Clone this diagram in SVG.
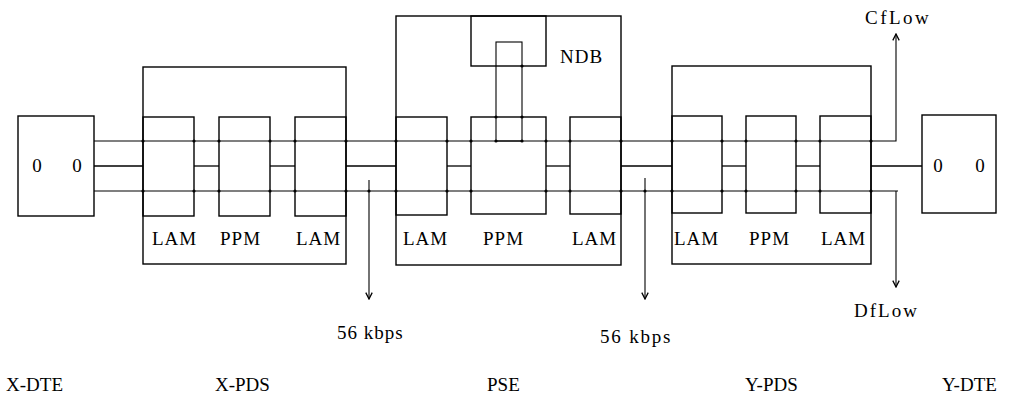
<svg xmlns="http://www.w3.org/2000/svg" width="1012" height="397" viewBox="0 0 1012 397">
<style>
.b{fill:none;stroke:#000;stroke-width:1.4}
.l{fill:none;stroke:#000;stroke-width:1.1}
.t{font-family:"Liberation Serif",serif;font-size:19px;fill:#000}
.d{fill:#000}
</style>
<defs>
<marker id="ah" viewBox="0 0 10 10" refX="9" refY="5" markerWidth="8" markerHeight="8" orient="auto" markerUnits="userSpaceOnUse">
<path d="M1,1 L9,5 L1,9" fill="none" stroke="#000" stroke-width="1.6"/>
</marker>
</defs>
<rect width="1012" height="397" fill="#fff"/>
<g id="connectors">
<polyline class="l" points="94,141 896,141 896,34" marker-end="url(#ah)"/>
<polyline class="l" points="94,191 898,191"/>
<line class="l" x1="896" y1="191" x2="896" y2="287" marker-end="url(#ah)"/>
<line class="l" x1="369" y1="180" x2="369" y2="299" marker-end="url(#ah)"/>
<line class="l" x1="645" y1="178" x2="645" y2="299" marker-end="url(#ah)"/>
<g stroke="#000" stroke-width="1.3">
<line x1="94" y1="166" x2="143" y2="166"/>
<line x1="194" y1="166" x2="219" y2="166"/>
<line x1="270" y1="166" x2="295" y2="166"/>
<line x1="346" y1="166" x2="396" y2="166"/>
<line x1="447" y1="166" x2="471" y2="166"/>
<line x1="546" y1="166" x2="570" y2="166"/>
<line x1="621" y1="166" x2="672" y2="166"/>
<line x1="722" y1="166" x2="746" y2="166"/>
<line x1="796" y1="166" x2="820" y2="166"/>
<line x1="871" y1="166" x2="922" y2="166"/>
</g>
<g class="d">
<circle cx="143" cy="141" r="1.6"/><circle cx="194" cy="141" r="1.6"/><circle cx="219" cy="141" r="1.6"/><circle cx="270" cy="141" r="1.6"/><circle cx="295" cy="141" r="1.6"/><circle cx="346" cy="141" r="1.6"/>
<circle cx="396" cy="141" r="1.6"/><circle cx="447" cy="141" r="1.6"/><circle cx="471" cy="141" r="1.6"/><circle cx="496" cy="141" r="1.6"/><circle cx="522" cy="141" r="1.6"/><circle cx="546" cy="141" r="1.6"/><circle cx="570" cy="141" r="1.6"/><circle cx="621" cy="141" r="1.6"/>
<circle cx="672" cy="141" r="1.6"/><circle cx="722" cy="141" r="1.6"/><circle cx="746" cy="141" r="1.6"/><circle cx="796" cy="141" r="1.6"/><circle cx="820" cy="141" r="1.6"/><circle cx="871" cy="141" r="1.6"/>
<circle cx="143" cy="191" r="1.6"/><circle cx="194" cy="191" r="1.6"/><circle cx="219" cy="191" r="1.6"/><circle cx="270" cy="191" r="1.6"/><circle cx="295" cy="191" r="1.6"/><circle cx="346" cy="191" r="1.6"/><circle cx="369" cy="191" r="1.6"/>
<circle cx="396" cy="191" r="1.6"/><circle cx="447" cy="191" r="1.6"/><circle cx="471" cy="191" r="1.6"/><circle cx="546" cy="191" r="1.6"/><circle cx="570" cy="191" r="1.6"/><circle cx="621" cy="191" r="1.6"/><circle cx="645" cy="191" r="1.6"/>
<circle cx="672" cy="191" r="1.6"/><circle cx="722" cy="191" r="1.6"/><circle cx="746" cy="191" r="1.6"/><circle cx="796" cy="191" r="1.6"/><circle cx="820" cy="191" r="1.6"/><circle cx="871" cy="191" r="1.6"/>
<circle cx="496" cy="117" r="1.6"/><circle cx="522" cy="117" r="1.6"/><circle cx="522" cy="66" r="1.6"/>
</g>
</g>
<g id="x-dte">
<rect class="b" x="18" y="116" width="76" height="100"/>
<text class="t" x="37" y="172" text-anchor="middle">0</text>
<text class="t" x="77" y="172" text-anchor="middle">0</text>
</g>
<g id="x-pds">
<rect class="b" x="143" y="67" width="203" height="197"/>
<rect class="b" x="143" y="117" width="51" height="99"/>
<rect class="b" x="219" y="117" width="51" height="99"/>
<rect class="b" x="295" y="117" width="51" height="99"/>
<text class="t" x="152" y="245" letter-spacing="1">LAM</text>
<text class="t" x="220" y="245" letter-spacing="1">PPM</text>
<text class="t" x="296" y="245" letter-spacing="1">LAM</text>
</g>
<g id="pse">
<rect class="b" x="396" y="16" width="225" height="249"/>
<rect class="b" x="471" y="16" width="75" height="50"/>
<rect class="l" x="496" y="42" width="26" height="99"/>
<rect class="b" x="396" y="117" width="51" height="98"/>
<rect class="b" x="471" y="117" width="75" height="97"/>
<rect class="b" x="570" y="117" width="51" height="97"/>
<text class="t" x="560" y="63" letter-spacing="1">NDB</text>
<text class="t" x="403" y="245" letter-spacing="1">LAM</text>
<text class="t" x="483" y="245" letter-spacing="1">PPM</text>
<text class="t" x="572" y="245" letter-spacing="1">LAM</text>
</g>
<g id="y-pds">
<rect class="b" x="672" y="66" width="199" height="198"/>
<rect class="b" x="672" y="116" width="50" height="97"/>
<rect class="b" x="746" y="116" width="50" height="97"/>
<rect class="b" x="820" y="116" width="51" height="97"/>
<text class="t" x="674" y="245" letter-spacing="1">LAM</text>
<text class="t" x="749" y="245" letter-spacing="1">PPM</text>
<text class="t" x="821" y="245" letter-spacing="1">LAM</text>
</g>
<g id="y-dte">
<rect class="b" x="922" y="115" width="74" height="98"/>
<text class="t" x="938" y="172" text-anchor="middle">0</text>
<text class="t" x="980" y="172" text-anchor="middle">0</text>
</g>
<g id="labels">
<text class="t" x="865" y="24" letter-spacing="2.5">CfLow</text>
<text class="t" x="854" y="317" letter-spacing="2">DfLow</text>
<text class="t" x="337" y="339" letter-spacing="1">56 kbps</text>
<text class="t" x="600" y="343" letter-spacing="1.8">56 kbps</text>
<text class="t" x="6" y="391">X-DTE</text>
<text class="t" x="215" y="391">X-PDS</text>
<text class="t" x="487" y="391">PSE</text>
<text class="t" x="745" y="391">Y-PDS</text>
<text class="t" x="942" y="391">Y-DTE</text>
</g>
</svg>
